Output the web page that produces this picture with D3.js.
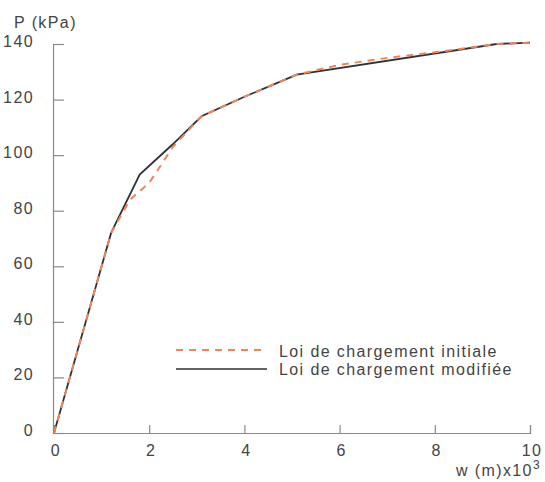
<!DOCTYPE html>
<html><head><meta charset="utf-8">
<script src="https://cdn.jsdelivr.net/npm/d3@7"></script>
<style>body{margin:0;background:#fff}svg{display:block}text{font-family:"Liberation Sans",Arial,sans-serif;fill:#444;letter-spacing:1.4px}</style>
</head><body><svg id="c" width="545" height="482"></svg>
<script>
const xTicks = [0, 2, 4, 6, 8, 10];
const yTicks = [0, 20, 40, 60, 80, 100, 120, 140];
const seriesNames = ["Loi de chargement initiale", "Loi de chargement modifiée"];
const initialW = [0, 1.2, 1.6, 2.0, 2.5, 3.1, 4.0, 5.1, 6.0, 7.0, 8.0, 9.3, 10];
const initialP = [0, 72, 84, 90, 103, 114, 121, 129, 132.5, 135, 137, 140, 140.5];
const modifiedW = [0, 1.2, 1.8, 2.5, 3.1, 4.0, 5.1, 9.3, 10];
const modifiedP = [0, 72, 93, 104, 114, 121, 129, 140, 140.5];

const svg = d3.select("#c");
const x = d3.scaleLinear().domain([0, 10]).range([54, 530]);
const y = d3.scaleLinear().domain([0, 140]).range([433, 44]);
const axisColor = "#8a8a8a";
const fs = "16px";

// axes
const xa = svg.append("g").attr("transform", "translate(0,433)")
  .call(d3.axisBottom(x).tickValues(xTicks).tickSize(-8).tickPadding(12).tickFormat(d3.format("d")));
const ya = svg.append("g").attr("transform", "translate(53,0)")
  .call(d3.axisLeft(y).tickValues(yTicks).tickSize(-11).tickPadding(19).tickFormat(d3.format("d")));
[xa, ya].forEach(g => {
  g.select(".domain").attr("stroke", axisColor).attr("stroke-width", 1.2);
  g.selectAll(".tick line").attr("stroke", axisColor).attr("stroke-width", 1.2);
  g.selectAll(".tick text").style("font-size", fs).attr("fill", "#444")
    .style("font-family", '"Liberation Sans",Arial,sans-serif');
});
ya.selectAll(".tick text").attr("dy", "0.16em");
xa.selectAll(".tick text").attr("dx", "0.09em");

const line = d3.line().x(d => x(d[0])).y(d => y(d[1]));
const modData = modifiedW.map((w, i) => [w, modifiedP[i]]);
const iniData = initialW.map((w, i) => [w, initialP[i]]);

svg.append("path").datum(modData).attr("d", line)
  .attr("fill", "none").attr("stroke", "#2f3136").attr("stroke-width", 1.8);
svg.append("path").datum(iniData).attr("d", line)
  .attr("fill", "none").attr("stroke", "#f0845a").attr("stroke-width", 2)
  .attr("stroke-dasharray", "7,6");

// axis titles
svg.append("text").attr("x", 14).attr("y", 28).style("font-size", fs).text("P (kPa)");
const xt = svg.append("text").attr("x", 541).attr("y", 476).attr("text-anchor", "end").style("font-size", fs);
xt.append("tspan").text("w (m)x10");
xt.append("tspan").attr("dy", -7).style("font-size", "12px").text("3");

// legend
const leg = svg.append("g");
leg.append("line").attr("x1", 176).attr("x2", 267).attr("y1", 350).attr("y2", 350)
  .attr("stroke", "#f0845a").attr("stroke-width", 2).attr("stroke-dasharray", "7,6");
leg.append("line").attr("x1", 176).attr("x2", 267).attr("y1", 369).attr("y2", 369)
  .attr("stroke", "#2f3136").attr("stroke-width", 1.5);
leg.append("text").attr("x", 279).attr("y", 357).style("font-size", fs).text(seriesNames[0]);
leg.append("text").attr("x", 279).attr("y", 375).style("font-size", fs).text(seriesNames[1]);
</script></body></html>
